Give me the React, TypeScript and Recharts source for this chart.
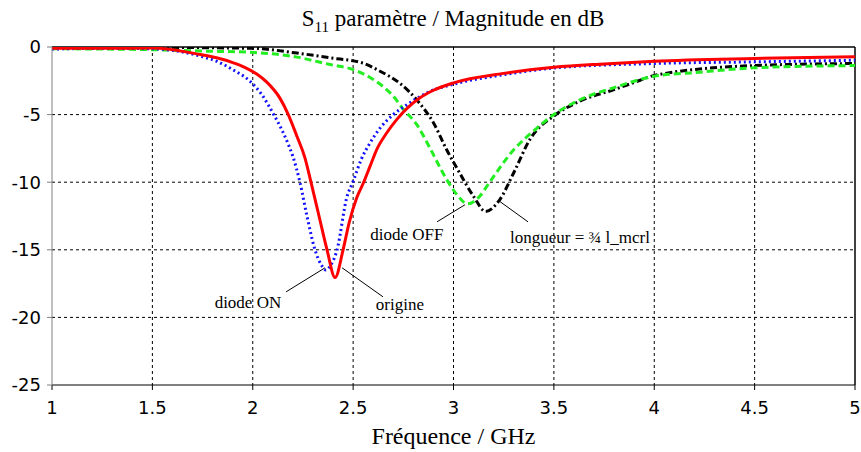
import React from "react";
import {
  LineChart,
  Line,
  XAxis,
  YAxis,
  CartesianGrid,
  ReferenceLine,
  ReferenceDot,
} from "recharts";

// fréquences (GHz) et |S11| (dB)
const origineFreq = [1.0, 1.25, 1.5, 1.74, 1.82, 1.9, 1.96, 2.02, 2.07, 2.136, 2.177, 2.22, 2.26, 2.29, 2.33, 2.37, 2.41, 2.45, 2.48, 2.518, 2.551, 2.584, 2.617, 2.667, 2.717, 2.833, 2.9, 3.0, 3.25, 3.5, 3.75, 4.0, 4.5, 5.0];
const origineDb = [-0.1, -0.1, -0.08, -0.56, -0.8, -1.15, -1.5, -2.0, -2.6, -3.8, -5.0, -6.6, -8.2, -10, -12.5, -15, -17.05, -15, -13, -11.15, -10.06, -8.83, -7.6, -6.36, -5.37, -3.76, -3.2, -2.65, -1.95, -1.5, -1.25, -1.05, -0.85, -0.72];

const diodeOnFreq = [1.0, 1.25, 1.5, 1.74, 1.82, 1.9, 1.986, 2.045, 2.1, 2.144, 2.177, 2.2, 2.235, 2.27, 2.31, 2.345, 2.365, 2.39, 2.42, 2.468, 2.5, 2.54, 2.584, 2.634, 2.7, 2.783, 2.88, 3.0, 3.25, 3.5, 4.0, 4.5, 5.0];
const diodeOnDb = [-0.15, -0.1, -0.13, -0.68, -1.05, -1.67, -2.53, -3.52, -4.88, -6.1, -7.2, -8.1, -10, -12.5, -15, -16.2, -16.5, -16.1, -15, -11.15, -9.94, -8.33, -7.1, -6.0, -5.0, -4.13, -3.3, -2.75, -2.05, -1.55, -1.22, -1.1, -0.98];

const diodeOffFreq = [1.0, 1.5, 1.75, 2.0, 2.22, 2.385, 2.5, 2.6, 2.7, 2.75, 2.82, 2.88, 2.966, 3.016, 3.07, 3.13, 3.18, 3.3, 3.4, 3.5, 3.63, 3.8, 4.0, 4.2, 4.5, 5.0];
const diodeOffDb = [-0.13, -0.2, -0.3, -0.4, -0.75, -1.3, -1.67, -2.4, -3.64, -4.6, -5.8, -7.4, -9.8, -10.9, -11.6, -11.05, -10, -7.6, -6.2, -5.0, -3.9, -3.0, -2.16, -1.9, -1.54, -1.37];

const longueurFreq = [1.0, 1.5, 2.0, 2.22, 2.385, 2.55, 2.634, 2.73, 2.83, 2.9, 2.966, 3.03, 3.1, 3.16, 3.23, 3.3, 3.38, 3.51, 3.63, 3.8, 3.93, 4.0, 4.5, 5.0];
const longueurDb = [-0.05, -0.03, -0.1, -0.45, -0.8, -1.2, -1.79, -2.65, -4.14, -5.6, -7.6, -9.3, -11.05, -12.16, -11.3, -9.3, -6.85, -5.0, -4.0, -3.15, -2.46, -2.1, -1.37, -1.22];

const xTicks = [1, 1.5, 2, 2.5, 3, 3.5, 4, 4.5, 5];
const yTicks = [-25, -20, -15, -10, -5, 0];

const toPts = (f: number[], db: number[]) => f.map((v, i) => ({ f: v, db: db[i] }));

const serif = "'Liberation Serif', 'Times New Roman', serif";
const sans = "'DejaVu Sans', Verdana, sans-serif";

const noteText = (label: string) => (p: any) => (
  <text
    x={p.cx}
    y={p.cy}
    textAnchor="middle"
    dominantBaseline="central"
    fontFamily={serif}
    fontSize={17}
    fill="#000"
  >
    {label}
  </text>
);

export default function App() {
  return (
    <div style={{ position: "absolute", left: 0, top: 0, width: 861, height: 452, background: "#fff" }}>
      <div
        style={{
          position: "absolute",
          left: 0,
          top: 6,
          width: 906,
          textAlign: "center",
          fontFamily: serif,
          fontSize: 23,
          color: "#000",
        }}
      >
        S<sub style={{ fontSize: 15 }}>11</sub> paramètre / Magnitude en dB
      </div>
      <LineChart width={861} height={452} margin={{ top: 47, right: 6, left: 0, bottom: 0 }}>
        <CartesianGrid
          stroke="#000"
          strokeDasharray="3 3"
          horizontalValues={[-20, -15, -10, -5]}
          verticalValues={[1.5, 2, 2.5, 3, 3.5, 4, 4.5]}
        />
        <XAxis
          type="number"
          dataKey="f"
          domain={[1, 5]}
          ticks={xTicks}
          allowDataOverflow
          height={67}
          tickSize={5}
          tickMargin={11}
          stroke="#000"
          tick={{ fill: "#000", fontSize: 18, fontFamily: sans }}
          label={{
            value: "Fréquence / GHz",
            position: "insideBottom",
            offset: 8,
            fill: "#000",
            fontSize: 24,
            fontFamily: serif,
          }}
        />
        <YAxis
          type="number"
          domain={[-25, 0]}
          ticks={yTicks}
          allowDataOverflow
          width={52}
          tickSize={5}
          tickMargin={6}
          stroke="#808080"
          tick={{ fill: "#000", fontSize: 18, fontFamily: sans }}
        />
        <ReferenceLine y={0} stroke="#000" strokeWidth={1.5} />
        <ReferenceLine x={5} stroke="#000" strokeWidth={1.5} />

        <Line
          data={toPts(longueurFreq, longueurDb)}
          dataKey="db"
          type="monotone"
          stroke="#000"
          strokeWidth={3}
          strokeDasharray="7 3 2 3"
          dot={false}
          isAnimationActive={false}
        />
        <Line
          data={toPts(diodeOffFreq, diodeOffDb)}
          dataKey="db"
          type="monotone"
          stroke="#22ee22"
          strokeWidth={3}
          strokeDasharray="7 4"
          dot={false}
          isAnimationActive={false}
        />
        <Line
          data={toPts(diodeOnFreq, diodeOnDb)}
          dataKey="db"
          type="monotone"
          stroke="#1010ff"
          strokeWidth={3}
          strokeDasharray="2 3"
          dot={false}
          isAnimationActive={false}
        />
        <Line
          data={toPts(origineFreq, origineDb)}
          dataKey="db"
          type="monotone"
          stroke="#ff0000"
          strokeWidth={3}
          dot={false}
          isAnimationActive={false}
        />

        {/* traits de repère des annotations */}
        <ReferenceLine segment={[{ x: 2.36, y: -16.33 }, { x: 2.166, y: -18.11 }]} stroke="#000" strokeWidth={1} />
        <ReferenceLine segment={[{ x: 2.445, y: -16.33 }, { x: 2.649, y: -18.48 }]} stroke="#000" strokeWidth={1} />
        <ReferenceLine segment={[{ x: 3.057, y: -11.67 }, { x: 2.918, y: -12.93 }]} stroke="#000" strokeWidth={1} />
        <ReferenceLine segment={[{ x: 3.232, y: -11.44 }, { x: 3.371, y: -12.93 }]} stroke="#000" strokeWidth={1} />

        <ReferenceDot x={1.976} y={-18.93} r={0} shape={noteText("diode ON")} />
        <ReferenceDot x={2.733} y={-19.07} r={0} shape={noteText("origine")} />
        <ReferenceDot x={2.768} y={-13.89} r={0} shape={noteText("diode OFF")} />
        <ReferenceDot x={3.63} y={-14.11} r={0} shape={noteText("longueur = ¾ l_mcrl")} />
      </LineChart>
    </div>
  );
}
